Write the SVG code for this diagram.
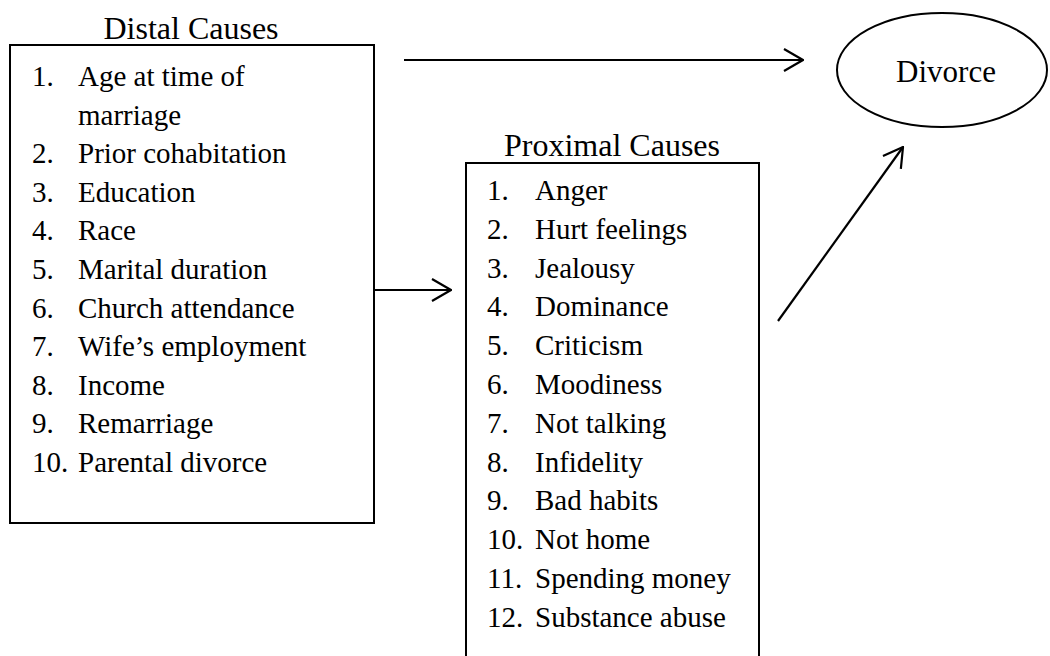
<svg xmlns="http://www.w3.org/2000/svg" width="1050" height="656" viewBox="0 0 1050 656">
<style>
  text { font-family: "Liberation Serif", "Times New Roman", serif; fill: #000; }
  .title { font-size: 32px; text-anchor: middle; }
  .item { font-size: 29px; }
  .box { fill: #fff; stroke: #000; stroke-width: 2; }
  .conn { stroke: #000; stroke-width: 2.2; fill: none; }
</style>
<defs>
  <marker id="arrow" markerUnits="userSpaceOnUse" viewBox="0 0 22 26" refX="21" refY="13" markerWidth="22" markerHeight="26" orient="auto">
    <path d="M2,2 L21,13 L2,24" fill="none" stroke="#000" stroke-width="2.2" stroke-linejoin="miter"/>
  </marker>
</defs>
<rect width="1050" height="656" fill="#fff"/>

<g id="distal">
  <text class="title" x="191" y="39">Distal Causes</text>
  <rect class="box" x="10" y="45" width="364" height="478"/>
  <text class="item"><tspan x="32" y="86">1.</tspan><tspan x="78" y="86">Age at time of</tspan></text>
  <text class="item"><tspan x="78" y="124.6">marriage</tspan></text>
  <text class="item"><tspan x="32" y="163.2">2.</tspan><tspan x="78" y="163.2">Prior cohabitation</tspan></text>
  <text class="item"><tspan x="32" y="201.8">3.</tspan><tspan x="78" y="201.8">Education</tspan></text>
  <text class="item"><tspan x="32" y="240.4">4.</tspan><tspan x="78" y="240.4">Race</tspan></text>
  <text class="item"><tspan x="32" y="279">5.</tspan><tspan x="78" y="279">Marital duration</tspan></text>
  <text class="item"><tspan x="32" y="317.6">6.</tspan><tspan x="78" y="317.6">Church attendance</tspan></text>
  <text class="item"><tspan x="32" y="356.2">7.</tspan><tspan x="78" y="356.2">Wife’s employment</tspan></text>
  <text class="item"><tspan x="32" y="394.8">8.</tspan><tspan x="78" y="394.8">Income</tspan></text>
  <text class="item"><tspan x="32" y="433.4">9.</tspan><tspan x="78" y="433.4">Remarriage</tspan></text>
  <text class="item"><tspan x="32" y="472">10.</tspan><tspan x="78" y="472">Parental divorce</tspan></text>
</g>

<g id="proximal">
  <text class="title" x="612" y="156">Proximal Causes</text>
  <path class="box" d="M466,670 L466,163 L759,163 L759,670"/>
  <text class="item"><tspan x="487" y="200">1.</tspan><tspan x="535" y="200">Anger</tspan></text>
  <text class="item"><tspan x="487" y="238.8">2.</tspan><tspan x="535" y="238.8">Hurt feelings</tspan></text>
  <text class="item"><tspan x="487" y="277.6">3.</tspan><tspan x="535" y="277.6">Jealousy</tspan></text>
  <text class="item"><tspan x="487" y="316.4">4.</tspan><tspan x="535" y="316.4">Dominance</tspan></text>
  <text class="item"><tspan x="487" y="355.2">5.</tspan><tspan x="535" y="355.2">Criticism</tspan></text>
  <text class="item"><tspan x="487" y="394">6.</tspan><tspan x="535" y="394">Moodiness</tspan></text>
  <text class="item"><tspan x="487" y="432.8">7.</tspan><tspan x="535" y="432.8">Not talking</tspan></text>
  <text class="item"><tspan x="487" y="471.6">8.</tspan><tspan x="535" y="471.6">Infidelity</tspan></text>
  <text class="item"><tspan x="487" y="510.4">9.</tspan><tspan x="535" y="510.4">Bad habits</tspan></text>
  <text class="item"><tspan x="487" y="549.2">10.</tspan><tspan x="535" y="549.2">Not home</tspan></text>
  <text class="item"><tspan x="487" y="588">11.</tspan><tspan x="535" y="588">Spending money</tspan></text>
  <text class="item"><tspan x="487" y="626.8">12.</tspan><tspan x="535" y="626.8">Substance abuse</tspan></text>
</g>

<g id="divorce">
  <ellipse class="box" cx="942" cy="70" rx="105" ry="57"/>
  <text class="title" x="946" y="82" style="font-size:31px">Divorce</text>
</g>

<g id="connectors">
  <line class="conn" x1="404" y1="60" x2="803" y2="60" marker-end="url(#arrow)"/>
  <line class="conn" x1="374" y1="290" x2="451" y2="290" marker-end="url(#arrow)"/>
  <line class="conn" x1="778" y1="321" x2="903" y2="147" marker-end="url(#arrow)"/>
</g>
</svg>
